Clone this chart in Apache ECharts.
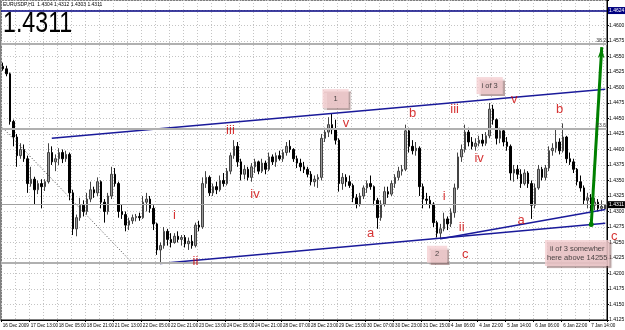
<!DOCTYPE html>
<html>
<head>
<meta charset="UTF-8">
<title>EURUSDP,H1</title>
<script type="text/javascript" src="https://cdn.jsdelivr.net/npm/echarts@6/dist/echarts.min.js"></script>
<style>html,body{margin:0;padding:0;background:#fff;}</style>
</head>
<body>
<div id="main" style="width:625px;height:330px"></div>
<script type="text/javascript">
// bars (one bar = 2 hours)
var opens = [1.4534,1.4530,1.4522,1.4445,1.4420,1.4390,1.4400,1.4385,1.4345,1.4352,
1.4335,1.4345,1.4340,1.4348,1.4395,1.4380,1.4385,1.4395,1.4385,1.4392,
1.4330,1.4272,1.4290,1.4310,1.4300,1.4320,1.4335,1.4330,1.4348,1.4315,
1.4300,1.4325,1.4360,1.4345,1.4300,1.4295,1.4278,1.4285,1.4290,1.4292,
1.4290,1.4315,1.4320,1.4305,1.4280,1.4238,1.4245,1.4268,1.4255,1.4250,
1.4260,1.4255,1.4258,1.4248,1.4252,1.4245,1.4278,1.4275,1.4345,1.4355,
1.4330,1.4340,1.4335,1.4350,1.4345,1.4365,1.4390,1.4405,1.4380,1.4360,
1.4368,1.4355,1.4372,1.4380,1.4365,1.4378,1.4368,1.4388,1.4380,1.4390,
1.4385,1.4395,1.4405,1.4400,1.4385,1.4378,1.4372,1.4368,1.4360,1.4348,
1.4352,1.4355,1.4418,1.4428,1.4440,1.4432,1.4415,1.4345,1.4355,1.4348,
1.4342,1.4322,1.4312,1.4325,1.4338,1.4345,1.4340,1.4318,1.4290,1.4312,
1.4332,1.4328,1.4345,1.4355,1.4365,1.4368,1.4430,1.4405,1.4398,1.4402,
1.4340,1.4320,1.4318,1.4312,1.4282,1.4265,1.4272,1.4288,1.4280,1.4298,
1.4338,1.4388,1.4400,1.4428,1.4412,1.4405,1.4410,1.4415,1.4410,1.4422,
1.4465,1.4448,1.4418,1.4430,1.4412,1.4405,1.4362,1.4368,1.4360,1.4345,
1.4362,1.4345,1.4310,1.4338,1.4368,1.4355,1.4370,1.4398,1.4402,1.4412,
1.4398,1.4420,1.4385,1.4380,1.4368,1.4348,1.4338,1.4318,1.4322,1.4310,
1.4315,1.4305,1.4304];
var highs = [1.4540,1.4535,1.4524,1.4448,1.4425,1.4410,1.4408,1.4390,1.4372,1.4356,
1.4350,1.4352,1.4352,1.4410,1.4405,1.4392,1.4402,1.4400,1.4398,1.4395,
1.4335,1.4295,1.4322,1.4318,1.4330,1.4348,1.4340,1.4355,1.4350,1.4320,
1.4330,1.4372,1.4370,1.4348,1.4312,1.4300,1.4290,1.4295,1.4296,1.4298,
1.4325,1.4330,1.4325,1.4310,1.4282,1.4250,1.4275,1.4272,1.4265,1.4265,
1.4268,1.4262,1.4262,1.4258,1.4262,1.4282,1.4285,1.4355,1.4365,1.4358,
1.4345,1.4348,1.4358,1.4362,1.4370,1.4395,1.4415,1.4412,1.4385,1.4375,
1.4372,1.4378,1.4385,1.4382,1.4385,1.4382,1.4395,1.4392,1.4395,1.4398,
1.4400,1.4412,1.4415,1.4402,1.4390,1.4385,1.4380,1.4372,1.4365,1.4358,
1.4360,1.4425,1.4435,1.4452,1.4458,1.4448,1.4418,1.4362,1.4360,1.4358,
1.4345,1.4328,1.4330,1.4342,1.4350,1.4358,1.4342,1.4322,1.4318,1.4340,
1.4340,1.4350,1.4360,1.4372,1.4375,1.4440,1.4435,1.4415,1.4412,1.4405,
1.4345,1.4330,1.4325,1.4315,1.4285,1.4280,1.4298,1.4292,1.4305,1.4345,
1.4395,1.4408,1.4440,1.4435,1.4420,1.4418,1.4422,1.4425,1.4428,1.4475,
1.4472,1.4450,1.4435,1.4432,1.4420,1.4408,1.4375,1.4375,1.4368,1.4368,
1.4365,1.4350,1.4345,1.4375,1.4372,1.4375,1.4405,1.4410,1.4432,1.4418,
1.4442,1.4422,1.4395,1.4385,1.4370,1.4358,1.4342,1.4330,1.4328,1.4322,
1.4320,1.4318,1.4312];
var lows = [1.4527,1.4518,1.4440,1.4405,1.4372,1.4385,1.4380,1.4330,1.4340,1.4312,
1.4328,1.4305,1.4333,1.4345,1.4375,1.4365,1.4375,1.4378,1.4380,1.4318,
1.4262,1.4260,1.4285,1.4292,1.4295,1.4315,1.4322,1.4325,1.4305,1.4282,
1.4295,1.4320,1.4340,1.4290,1.4288,1.4268,1.4270,1.4280,1.4284,1.4285,
1.4288,1.4300,1.4298,1.4270,1.4230,1.4215,1.4240,1.4245,1.4242,1.4248,
1.4250,1.4245,1.4242,1.4238,1.4240,1.4242,1.4268,1.4272,1.4338,1.4325,
1.4325,1.4328,1.4332,1.4340,1.4342,1.4360,1.4385,1.4372,1.4350,1.4352,
1.4350,1.4348,1.4362,1.4360,1.4362,1.4360,1.4365,1.4375,1.4372,1.4382,
1.4380,1.4390,1.4395,1.4380,1.4370,1.4365,1.4362,1.4355,1.4342,1.4340,
1.4338,1.4350,1.4412,1.4420,1.4425,1.4408,1.4332,1.4335,1.4340,1.4338,
1.4315,1.4305,1.4308,1.4320,1.4330,1.4335,1.4310,1.4272,1.4285,1.4308,
1.4322,1.4325,1.4338,1.4350,1.4358,1.4365,1.4395,1.4392,1.4390,1.4325,
1.4305,1.4312,1.4305,1.4275,1.4258,1.4255,1.4268,1.4270,1.4275,1.4290,
1.4335,1.4380,1.4395,1.4405,1.4400,1.4398,1.4405,1.4405,1.4406,1.4418,
1.4440,1.4408,1.4410,1.4405,1.4398,1.4350,1.4348,1.4352,1.4338,1.4342,
1.4338,1.4288,1.4305,1.4335,1.4350,1.4350,1.4365,1.4390,1.4395,1.4392,
1.4395,1.4378,1.4375,1.4362,1.4342,1.4332,1.4312,1.4305,1.4300,1.4302,
1.4300,1.4302,1.4303];
var closes = [1.4530,1.4522,1.4445,1.4420,1.4390,1.4400,1.4385,1.4345,1.4352,1.4335,
1.4345,1.4340,1.4348,1.4395,1.4380,1.4385,1.4395,1.4385,1.4392,1.4330,
1.4272,1.4290,1.4310,1.4300,1.4320,1.4335,1.4330,1.4348,1.4315,1.4300,
1.4325,1.4360,1.4345,1.4300,1.4295,1.4278,1.4285,1.4290,1.4292,1.4290,
1.4315,1.4320,1.4305,1.4280,1.4238,1.4245,1.4268,1.4255,1.4250,1.4260,
1.4255,1.4258,1.4248,1.4252,1.4245,1.4278,1.4275,1.4345,1.4355,1.4330,
1.4340,1.4335,1.4350,1.4345,1.4365,1.4390,1.4405,1.4380,1.4360,1.4368,
1.4355,1.4372,1.4380,1.4365,1.4378,1.4368,1.4388,1.4380,1.4390,1.4385,
1.4395,1.4405,1.4400,1.4385,1.4378,1.4372,1.4368,1.4360,1.4348,1.4352,
1.4355,1.4418,1.4428,1.4440,1.4432,1.4415,1.4345,1.4355,1.4348,1.4342,
1.4322,1.4312,1.4325,1.4338,1.4345,1.4340,1.4318,1.4290,1.4312,1.4332,
1.4328,1.4345,1.4355,1.4365,1.4368,1.4430,1.4405,1.4398,1.4402,1.4340,
1.4320,1.4318,1.4312,1.4282,1.4265,1.4272,1.4288,1.4280,1.4298,1.4338,
1.4388,1.4400,1.4428,1.4412,1.4405,1.4410,1.4415,1.4410,1.4422,1.4465,
1.4448,1.4418,1.4430,1.4412,1.4405,1.4362,1.4368,1.4360,1.4345,1.4362,
1.4345,1.4310,1.4338,1.4368,1.4355,1.4370,1.4398,1.4402,1.4412,1.4398,
1.4420,1.4385,1.4380,1.4368,1.4348,1.4338,1.4318,1.4322,1.4310,1.4315,
1.4305,1.4308,1.4311];

// time labels, one every 8 bars
var tickLabels = ['16 Dec 2009','17 Dec 13:00','18 Dec 05:00','18 Dec 21:00','21 Dec 13:00','22 Dec 05:00',
'22 Dec 21:00','23 Dec 13:00','24 Dec 05:00','24 Dec 21:00','28 Dec 07:00','28 Dec 23:00','29 Dec 15:00',
'30 Dec 07:00','30 Dec 23:00','31 Dec 15:00','4 Jan 06:00','4 Jan 22:00','5 Jan 14:00','6 Jan 06:00',
'6 Jan 22:00','7 Jan 14:00'];

// wave counts [bar, price, text]
var waveLabels = [[49,1.4294,'i'],[55,1.4220,'ii'],[65,1.4431,'iii'],[72,1.4327,'iv'],[98,1.4442,'v'],
[105,1.4265,'a'],[117,1.4458,'b'],[126,1.4324,'i'],[131,1.4275,'ii'],[132,1.4230,'c'],
[129,1.4465,'iii'],[136,1.4386,'iv'],[146,1.4480,'v'],[159,1.4464,'b'],[148,1.4285,'a'],[172,1.4260,'c']];
// note boxes [bar, price, text]
var noteBoxes = [[95,1.4482,'1'],[124,1.4231,'2'],[139,1.4503,'i of 3'],[164,1.4233,'ii of 3 somewher\nhere above 14255']];
// trend lines [bar1, price1, bar2, price2]
var channelLines = [[14,1.4418,172,1.4497],[45,1.4216,172,1.4281],[125,1.4256,172,1.4303]];
var dottedLine = [0,1.4435,37,1.4217];
var targetArrow = [168,1.4279,171,1.4565];
var grayLevels = [1.4570,1.4433,1.4218];
var fibTexts = ['38.2','23.6',''];
var navyLevel = 1.4624;

var boxPads = [[5,11],[4,8],[4,5],[4,2]];
var last = closes.length - 1;

var mychart = echarts.init(document.getElementById('main'));

var bars = [], cats = [];
for (var i = 0; i < opens.length; i++) {
	bars.push([opens[i], closes[i], lows[i], highs[i]]);
	cats.push(String(i));
}

function onTick(v) {
	return Math.abs(v / 0.0025 - Math.round(v / 0.0025)) < 1e-6;
}

var lines = [];
channelLines.forEach(function (t) {
	lines.push([{coord: [t[0], t[1]]}, {coord: [t[2], t[3]]}]);
});
lines.push([{coord: [dottedLine[0], dottedLine[1]], lineStyle: {color: '#444', width: 1, type: [1, 2]}},
	{coord: [dottedLine[2], dottedLine[3]]}]);
grayLevels.forEach(function (v, k) {
	lines.push({yAxis: v, lineStyle: {color: '#b0b0b0', width: 2, type: 'solid'},
		label: {show: fibTexts[k] !== '', position: 'insideEndTop', formatter: fibTexts[k],
			fontSize: 5, color: '#333', distance: 1}});
});
lines.push({yAxis: closes[last], lineStyle: {color: '#a0a0a0', width: 1, type: 'solid'},
	label: {show: true, position: 'end', formatter: closes[last].toFixed(4), backgroundColor: '#000',
		color: '#fff', fontSize: 5, padding: [1, 1], distance: 1}});
lines.push({yAxis: navyLevel, lineStyle: {color: '#000080', width: 1.5, type: 'solid'},
	label: {show: true, position: 'end', formatter: navyLevel.toFixed(4), backgroundColor: '#000080',
		color: '#fff', fontSize: 5, padding: [1, 1], distance: 1}});

var fontS = 'Liberation Sans, sans-serif';

var option = {
	animation: false,
	backgroundColor: '#fff',
	grid: {left: 1, right: 18, top: 0, bottom: 10, show: true, borderColor: '#000', borderWidth: 1,
		containLabel: false, outerBoundsMode: 'none'},
	xAxis: {
		type: 'category',
		data: cats,
		boundaryGap: true,
		axisLine: {lineStyle: {color: '#000'}},
		axisTick: {show: true, interval: function (i) { return i % 8 === 0; }, length: 2, lineStyle: {color: '#000'}},
		axisLabel: {
			interval: function (i) { return i % 8 === 0; },
			formatter: function (v, i) { return tickLabels[i / 8] || ''; },
			showMinLabel: true, hideOverlap: false,
			align: 'left', fontSize: 4.6, fontFamily: fontS, color: '#000', margin: 3
		},
		splitLine: {show: true, interval: function (i) { return i % 4 === 0; }, lineStyle: {color: '#c4c4c4', type: [1, 2]}}
	},
	yAxis: {
		type: 'value',
		position: 'right',
		min: 1.4125,
		max: 1.4641,
		interval: 0.0025,
		axisLine: {show: true, lineStyle: {color: '#000'}},
		axisTick: {show: true, length: 2, lineStyle: {color: '#000'}},
		axisLabel: {
			formatter: function (v) { return onTick(v) ? v.toFixed(4) : ''; },
			fontSize: 5, fontFamily: fontS, color: '#000', margin: 2
		},
		splitLine: {show: true, lineStyle: {color: '#c4c4c4', type: [1, 2]}}
	},
	graphic: [
		{type: 'text', left: 3, top: 2, z: 100, style: {
			text: 'EURUSDP,H1  ' + [opens[last], highs[last], lows[last], closes[last]].map(function (v) { return v.toFixed(4); }).join(' '),
			fontSize: 5, fontFamily: fontS, fill: '#000'}},
		{type: 'text', x: 3, y: 9, scaleX: 0.8, z: 100, style: {
			text: closes[last].toFixed(4), fontSize: 29, fontFamily: fontS, fill: '#000'}}
	],
	series: [
		{
			type: 'candlestick',
			data: bars,
			barWidth: 2,
			itemStyle: {color: '#9a9a9a', color0: '#000', borderColor: '#444', borderColor0: '#000', borderWidth: 1},
			markLine: {
				silent: true, symbol: 'none', animation: false, precision: 4,
				lineStyle: {color: '#1a1a9a', width: 1.5, type: 'solid'},
				label: {show: false},
				data: lines
			}
		},
		{
			type: 'scatter',
			symbolSize: 1,
			itemStyle: {color: 'transparent'},
			silent: true,
			z: 10,
			data: waveLabels.map(function (w) {
				var d = {value: [w[0], w[1]], name: w[2]};
				if (w[0] === last) d.label = {offset: [9, 0]};
				return d;
			}),
			label: {show: true, position: 'inside', formatter: '{b}', color: '#cc0000',
				fontSize: 13, fontFamily: fontS},
			markLine: {
				silent: true, animation: false, precision: 4,
				symbol: ['circle', 'arrow'], symbolSize: [5, 11],
				lineStyle: {color: '#008000', width: 3, type: 'solid'},
				label: {show: false},
				data: [[{coord: [targetArrow[0], targetArrow[1]]}, {coord: [targetArrow[2], targetArrow[3]]}]]
			}
		},
		{
			type: 'scatter',
			symbolSize: 1,
			itemStyle: {color: 'transparent'},
			silent: true,
			z: 11,
			data: noteBoxes.map(function (b, k) {
				return {value: [b[0], b[1]], name: b[2], label: {padding: boxPads[k]}};
			}),
			label: {show: true, position: 'inside', formatter: '{b}', color: '#222',
				fontSize: 7.5, lineHeight: 9, fontFamily: fontS,
				backgroundColor: '#f5cfd2', shadowColor: 'rgba(130,90,90,0.7)', shadowBlur: 1,
				shadowOffsetX: 2, shadowOffsetY: 2}
		}
	]
};

mychart.setOption(option);
</script>
</body>
</html>
